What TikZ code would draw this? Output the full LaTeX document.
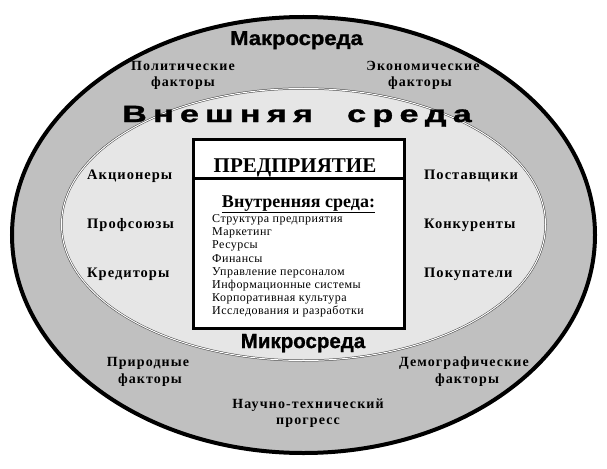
\documentclass[tikz,border=0pt]{standalone}
\usepackage{fontspec}
\usepackage{graphicx}
\setmainfont{Liberation Serif}
\setsansfont{Liberation Sans}
\newfontfamily\lblfont[LetterSpace=8]{Liberation Serif}
\newfontfamily\sidefont[LetterSpace=7]{Liberation Serif}
\newfontfamily\listfont[LetterSpace=4]{Liberation Serif}
\newfontfamily\heavyfont[FakeBold=1.2]{Liberation Sans Bold}
\definecolor{macro}{HTML}{C0C0C0}
\definecolor{micro}{HTML}{E6E6E6}
\begin{document}
\begin{tikzpicture}[x=1pt,y=-1pt,
  lbl/.style={font=\lblfont\bfseries\fontsize{14}{16}\selectfont, inner sep=0pt, anchor=base},
  side/.style={font=\sidefont\bfseries\fontsize{14.5}{16}\selectfont, inner sep=0pt, anchor=base west},
  item/.style={font=\listfont\fontsize{12}{14}\selectfont, inner sep=0pt, anchor=base west},
  big/.style={font=\heavyfont, inner sep=0pt, anchor=base},
]
\useasboundingbox (0,0) rectangle (607,468);
\fill[white] (0,0) rectangle (607,468);
% outer ellipse (macro environment)
\draw[line width=4pt, fill=macro] (303.5,235) ellipse [x radius=291.5, y radius=218];
% inner ellipse (micro environment)
\draw[draw=black!75, line width=0.5pt, double=white, double distance=1pt, fill=micro]
  (303.5,224.5) ellipse [x radius=242, y radius=136];
% enterprise box
\node[draw, line width=3pt, fill=white, minimum width=211pt, minimum height=189pt, inner sep=0pt] (box) at (299,234) {};
\coordinate (sepL) at (193.5,178);
\coordinate (sepR) at (404.5,178);
\draw[line width=3pt] (sepL) -- (sepR);

% titles
\node[big, font=\heavyfont\fontsize{20}{22}\selectfont] (macro) at (296.5,45) {\scalebox{1.1}[1]{Макросреда}};
\node[big, font=\heavyfont\fontsize{20.5}{22}\selectfont] (micro) at (303,348) {Микросреда};
\node[big, anchor=base west, font=\heavyfont\fontsize{23.5}{26}\selectfont] (ext1) at (122,122) {\scalebox{1.45}[1]{\makebox[118pt][s]{В н е ш н я я}}};
\node[big, anchor=base west, font=\heavyfont\fontsize{23.5}{26}\selectfont] (ext2) at (347,122) {\scalebox{1.45}[1]{\makebox[85pt][s]{с р е д а}}};

% macro factors
\node[lbl] (pol1) at (183,71) {Политические};
\node[lbl] (pol2) at (183,87) {факторы};
\node[lbl] (eco1) at (423,71) {Экономические};
\node[lbl] (eco2) at (420,87) {факторы};
\node[lbl] (nat1) at (148,366) {Природные};
\node[lbl] (nat2) at (150,383) {факторы};
\node[lbl] (dem1) at (464,366) {Демографические};
\node[lbl] (dem2) at (467,383) {факторы};
\node[lbl] (sci1) at (308,408) {Научно-технический};
\node[lbl] (sci2) at (308,424) {прогресс};

% micro factors
\node[side] (sh) at (87,179) {Акционеры};
\node[side] (tu) at (87,228) {Профсоюзы};
\node[side] (cr) at (87,277) {Кредиторы};
\node[side] (su) at (424,179) {Поставщики};
\node[side] (co) at (424,228) {Конкуренты};
\node[side] (cu) at (424,277) {Покупатели};

% box contents
\node[inner sep=0pt, anchor=base, font=\bfseries\fontsize{21}{23}\selectfont] (ent) at (295,172) {ПРЕДПРИЯТИЕ};
\node[inner sep=0pt, anchor=base, font=\bfseries\fontsize{18}{20}\selectfont] (inner) at (298.5,207) {\underline{Внутренняя среда:}};
\foreach \t [count=\i from 0] in {Структура предприятия, Маркетинг, Ресурсы, Финансы, Управление персоналом, Информационные системы, Корпоративная культура, Исследования и разработки}
  \node[item] (it\i) at (212,{222.5+13.2*\i}) {\t};
\end{tikzpicture}
\end{document}
